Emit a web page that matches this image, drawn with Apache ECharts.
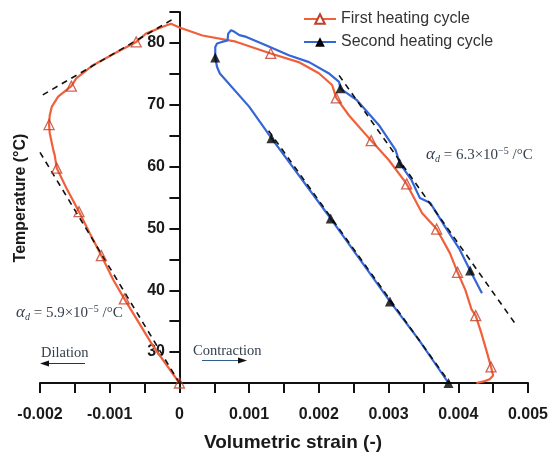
<!DOCTYPE html>
<html>
<head>
<meta charset="utf-8">
<script src="https://cdn.jsdelivr.net/npm/echarts@6/dist/echarts.min.js"></script>
<style>
html,body{margin:0;padding:0;background:#fff;}
#chart{width:551px;height:455px;}
</style>
</head>
<body>
<div id="chart"></div>
<script>
// ---- data (volumetric strain, temperature °C) ----
var firstCycle = [
  [0, 25], [-0.00038, 31.0], [-0.00079, 38.6], [-0.00095, 41.7], [-0.00112, 45.6],
  [-0.00129, 49.3], [-0.00144, 52.7], [-0.00162, 56.5], [-0.00176, 59.75], [-0.00179, 61.9],
  [-0.00181, 62.7], [-0.00186, 65.4], [-0.00187, 66.8], [-0.00186, 68.3], [-0.00183, 69.7],
  [-0.00174, 71.3], [-0.00155, 73.0], [-0.00148, 74.26], [-0.00124, 76.4], [-0.0009, 78.5],
  [-0.00062, 80.16], [-0.00048, 81.5], [-0.00024, 82.6], [-0.00012, 83.1], [0, 82.5],
  [0.00033, 81.2], [0.00081, 80.2], [0.00131, 78.3], [0.00171, 76.9], [0.002, 75.1],
  [0.00219, 73.2], [0.00225, 71.1], [0.00243, 68.3], [0.00275, 64.2], [0.003, 61.1],
  [0.00326, 57.2], [0.00348, 52.5], [0.00369, 49.9], [0.00388, 46.0], [0.00399, 42.9],
  [0.0041, 40.1], [0.00419, 36.9], [0.00425, 35.9], [0.00433, 33.1], [0.0044, 30.4],
  [0.00447, 27.6], [0.0045, 26.2], [0.00445, 25.6], [0.00438, 25.3], [0.00426, 25.0]
];
var firstMarkers = [
  [-0.00062, 80.16], [-0.00155, 73.0], [-0.00187, 66.8], [-0.00176, 59.75], [-0.00144, 52.7],
  [-0.00112, 45.6], [-0.00079, 38.6], [0, 25], [0.00131, 78.3], [0.00225, 71.1],
  [0.00275, 64.2], [0.00326, 57.2], [0.00369, 49.9], [0.00399, 42.9], [0.00425, 35.9],
  [0.00447, 27.6]
];
var secondCycle = [
  [0.00386, 25], [0.00343, 32.05], [0.00302, 38.2], [0.00217, 51.6], [0.00132, 64.6],
  [0.001, 69.7], [0.00058, 75.06], [0.00054, 76.1], [0.000514, 77.65], [0.000514, 79.35],
  [0.00054, 79.9], [0.00061, 80.16], [0.00069, 80.4], [0.0007, 81.5], [0.00074, 82.05],
  [0.00079, 81.8], [0.00086, 81.25], [0.00096, 80.97], [0.00124, 79.63], [0.00157, 78.0],
  [0.00186, 76.9], [0.00214, 75.1], [0.00229, 73.7], [0.00231, 72.6], [0.00254, 70.8],
  [0.00286, 66.73], [0.0031, 62.7], [0.00316, 60.55], [0.00333, 57.8], [0.00345, 54.9],
  [0.0036, 54.1], [0.00381, 50.3], [0.00402, 46.6], [0.00417, 43.2], [0.00434, 39.5]
];
var secondMarkers = [
  [0.000514, 77.65], [0.00132, 64.6], [0.00217, 51.6], [0.00302, 38.2], [0.00386, 25],
  [0.00231, 72.65], [0.00316, 60.55], [0.00417, 43.2]
];
var fitUpperLeft = [[-0.00196, 71.6], [-0.0001, 83.8]];
var fitLowerLeft = [[-0.002, 62.3], [0, 25]];
var fitUpperRight = [[0.00229, 74.75], [0.00481, 34.7]];
var fitLowerRight = [[0.00128, 65.8], [0.00388, 25]];

var seriesNames = ['First heating cycle', 'Second heating cycle'];
var xTitle = 'Volumetric strain (-)';
var yTitle = 'Temperature (°C)';

// ---- styles ----
var ORANGE = '#f0603a';
var ORANGE_EDGE = '#c0402a';
var BLUE = '#3566d6';
var AXIS = '#111';
var NOTE = '#36414d';
var sansBold = 'Liberation Sans, Arial, Helvetica, sans-serif';
var serif = 'Liberation Serif, Times New Roman, serif';

function dashed(data) {
  return {
    type: 'line', data: data, symbol: 'none', silent: true, z: 4,
    lineStyle: { color: '#111', width: 1.6, type: [6, 5] }
  };
}
function alphaRich() {
  return {
    a: { fontFamily: serif, fontStyle: 'italic', fontSize: 17, fill: NOTE },
    d: { fontFamily: serif, fontStyle: 'italic', fontSize: 10, fill: NOTE, padding: [8, 0, 0, 0] },
    n: { fontFamily: serif, fontSize: 15, fill: NOTE },
    s: { fontFamily: serif, fontSize: 10, fill: NOTE, padding: [0, 0, 8, 0] }
  };
}

var chart = echarts.init(document.getElementById('chart'), null, { renderer: 'canvas' });
chart.setOption({
  animation: false,
  backgroundColor: '#fff',
  grid: { left: 40, right: 21, top: 12, bottom: 72, containLabel: false },
  legend: {
    orient: 'vertical', left: 298, top: 6, itemGap: 7,
    itemWidth: 32, itemHeight: 12,
    data: seriesNames,
    textStyle: { fontFamily: 'Liberation Sans, Arial, sans-serif', fontSize: 16, color: '#333' }
  },
  xAxis: {
    type: 'value', min: -0.002, max: 0.005, interval: 0.0005,
    splitLine: { show: false },
    axisLine: { onZero: false, lineStyle: { color: AXIS, width: 2 } },
    axisTick: { length: 10, lineStyle: { color: AXIS, width: 2 } },
    axisLabel: {
      margin: 24, color: '#1a1a1a', fontFamily: sansBold, fontWeight: 'bold', fontSize: 16,
      formatter: function (v) {
        var k = Math.round(v * 2000);
        if (k % 2 !== 0) return '';
        if (k === 0) return '0';
        return (k / 2000).toFixed(3);
      }
    }
  },
  yAxis: {
    type: 'value', min: 25, max: 85, interval: 5,
    splitLine: { show: false },
    axisLine: { onZero: true, lineStyle: { color: AXIS, width: 2 } },
    axisTick: { length: 10, lineStyle: { color: AXIS, width: 2 } },
    axisLabel: {
      margin: -125, color: '#1a1a1a', fontFamily: sansBold, fontWeight: 'bold', fontSize: 16,
      formatter: function (v) { return (Math.round(v) % 10 === 0) ? String(Math.round(v)) : ''; }
    }
  },
  series: [
    {
      name: seriesNames[0], type: 'line', data: firstCycle, showSymbol: false,
      symbol: 'triangle', symbolSize: 10, z: 3,
      itemStyle: { color: '#fff', borderColor: ORANGE_EDGE, borderWidth: 1.3 },
      lineStyle: { color: ORANGE, width: 2.2 }
    },
    {
      name: seriesNames[1], type: 'line', data: secondCycle, showSymbol: false,
      symbol: 'triangle', symbolSize: 10, z: 3,
      itemStyle: { color: '#000' },
      lineStyle: { color: BLUE, width: 2.2 }
    },
    dashed(fitUpperLeft), dashed(fitLowerLeft), dashed(fitUpperRight), dashed(fitLowerRight),
    {
      type: 'scatter', data: firstMarkers, symbol: 'triangle', symbolSize: 10, z: 6, silent: true,
      itemStyle: { color: 'rgba(255,255,255,0)', borderColor: ORANGE_EDGE, borderWidth: 1.3 }
    },
    {
      type: 'scatter', data: secondMarkers, symbol: 'triangle', symbolSize: 10, z: 6, silent: true,
      itemStyle: { color: '#000' }
    }
  ],
  graphic: [
    {
      type: 'text', x: 21, y: 198, rotation: Math.PI / 2,
      style: { text: yTitle, fontFamily: sansBold, fontWeight: 'bold', fontSize: 16, fill: '#1a1a1a',
        textAlign: 'center', textVerticalAlign: 'middle' }
    },
    {
      type: 'text', x: 293, y: 443,
      style: { text: xTitle, fontFamily: sansBold, fontWeight: 'bold', fontSize: 19, fill: '#1a1a1a',
        textAlign: 'center', textVerticalAlign: 'middle' }
    },
    {
      type: 'text', x: 426, y: 155,
      style: { text: '{a|α}{d|d}{n| = 6.3×10}{s|−5}{n| /°C}', textVerticalAlign: 'middle', fill: NOTE, rich: alphaRich() }
    },
    {
      type: 'text', x: 16, y: 313,
      style: { text: '{a|α}{d|d}{n| = 5.9×10}{s|−5}{n| /°C}', textVerticalAlign: 'middle', fill: NOTE, rich: alphaRich() }
    },
    {
      type: 'text', x: 41, y: 353,
      style: { text: 'Dilation', fontFamily: serif, fontSize: 14.5, fill: NOTE, textVerticalAlign: 'middle' }
    },
    { type: 'line', shape: { x1: 46, y1: 363.5, x2: 85, y2: 363.5 }, style: { stroke: '#333', lineWidth: 1.2 } },
    { type: 'polygon', shape: { points: [[40, 363.5], [49, 360.5], [49, 366.5]] }, style: { fill: '#111' } },
    {
      type: 'text', x: 193, y: 351,
      style: { text: 'Contraction', fontFamily: serif, fontSize: 14.5, fill: NOTE, textVerticalAlign: 'middle' }
    },
    { type: 'line', shape: { x1: 202, y1: 360.5, x2: 241, y2: 360.5 }, style: { stroke: '#2d5f8a', lineWidth: 1.2 } },
    { type: 'polygon', shape: { points: [[247, 360.5], [238, 357.5], [238, 363.5]] }, style: { fill: '#111' } }
  ]
});
</script>
</body>
</html>
